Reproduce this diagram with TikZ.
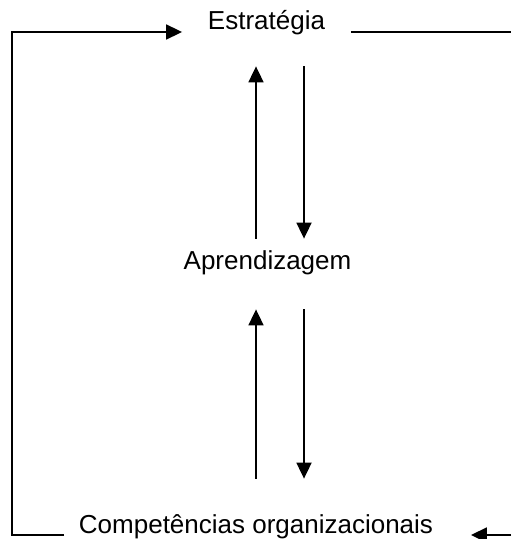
\documentclass[tikz,border=0pt]{standalone}
\usepackage{fontspec}
\setmainfont{Liberation Sans}
\usetikzlibrary{arrows.meta}

\begin{document}
\begin{tikzpicture}[x=0.5pt,y=-0.5pt,>={Triangle[length=8pt,width=7.5pt]},
                    line width=0.9pt, font=\fontsize{13}{15.6}\selectfont]
  \tikzstyle{every node}=[inner ysep=0pt,text height=0.75em,text depth=0.25em,anchor=base]
  \useasboundingbox (0,0) rectangle (511,539);

  \coordinate (TL) at (12,32);
  \coordinate (TR) at (511,32);
  \coordinate (BL) at (12,535);
  \coordinate (BR) at (511,535);
  \coordinate (U)  at (256,0);
  \coordinate (D)  at (304,0);

  \node[inner xsep=12.5pt] (est)  at (266.5,30) {Estratégia};
  \node[inner xsep=0pt]    (apr)  at (267.5,270) {Aprendizagem};
  \node[inner xsep=7pt]    (comp) at (256,533) {Competências organizacionais};

  % outer loop
  \draw[->] (BL -| comp.west) -- (BL) -- (TL) -- (TL -| est.west);
  \draw (est.east |- TR) -- (TR);
  \draw[->,shorten >=11.5pt] (BR) -- (BR -| comp.east);

  % estrategia <-> aprendizagem
  \draw[->,shorten <=7.75pt,shorten >=15.25pt] (apr.north -| U) -- (est.south -| U);
  \draw[->,shorten <=15.25pt,shorten >=7.75pt] (est.south -| D) -- (apr.north -| D);
  % aprendizagem <-> competencias
  \draw[->,shorten <=19.25pt,shorten >=16.75pt] (comp.north -| U) -- (apr.south -| U);
  \draw[->,shorten <=16.75pt,shorten >=19.25pt] (apr.south -| D) -- (comp.north -| D);
\end{tikzpicture}
\end{document}
